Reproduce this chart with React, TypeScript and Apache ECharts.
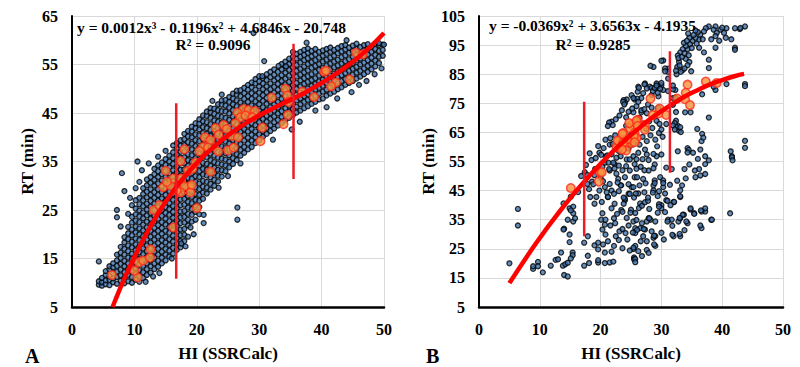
import { useEffect, useRef } from "react";
import * as echarts from "echarts";

// ---------- Panel A data ----------
const yRangeA = [5, 65];

// dense blue cloud, read column by column: [x, y values]
const cloudA: [number, number[]][] = [
  [4.3, [9.6, 10.3, 14.4]],
  [4.8, [9.4, 10.1, 11.0]],
  [5.4, [9.7, 10.5, 11.6, 12.4]],
  [6.0, [9.5, 10.6, 11.3, 12.8, 13.4]],
  [6.6, [10.1, 10.9, 12.0, 13.2, 14.0]],
  [7.2, [9.8, 11.2, 12.3, 13.5, 14.6, 15.8, 23.5, 25.0]],
  [7.8, [10.4, 11.5, 12.7, 13.9, 15.1, 16.2, 17.4, 21.6]],
  [8.4, [9.9, 11.0, 12.2, 13.4, 14.5, 15.8, 17.0, 18.3, 19.4, 28.9]],
  [9.0, [10.3, 11.6, 12.8, 14.0, 15.2, 16.5, 17.7, 19.0, 20.2, 21.5, 24.2]],
  [9.6, [10.0, 11.2, 12.4, 13.6, 14.9, 16.0, 17.3, 18.5, 19.8, 21.0, 22.4, 23.6, 26.0]],
  [10.2, [10.6, 11.8, 13.0, 14.2, 15.5, 16.7, 17.9, 19.1, 20.4, 21.6, 22.8, 24.1, 25.3, 27.0, 29.5]],
  [10.8, [10.2, 11.4, 12.6, 13.9, 15.0, 16.3, 17.5, 18.8, 20.0, 21.2, 22.5, 23.7, 24.9, 26.2, 27.5, 30.8]],
  [11.4, [11.0, 12.2, 13.5, 14.7, 15.9, 17.1, 18.4, 19.6, 20.8, 22.0, 23.3, 24.5, 25.8, 27.0, 28.3, 29.5]],
  [12.0, [11.6, 12.8, 14.0, 15.3, 16.5, 17.7, 18.9, 20.2, 21.4, 22.6, 23.9, 25.1, 26.3, 27.6, 28.8, 30.1, 31.3]],
  [12.6, [12.1, 13.4, 14.6, 15.8, 17.0, 18.3, 19.5, 20.7, 22.0, 23.2, 24.4, 25.7, 26.9, 28.1, 29.3, 30.6, 31.8]],
  [13.2, [12.8, 14.0, 15.2, 16.4, 17.7, 18.9, 20.1, 21.3, 22.6, 23.8, 25.0, 26.3, 27.5, 28.7, 30.0, 31.2, 32.4, 33.5]],
  [13.8, [13.3, 14.5, 15.8, 17.0, 18.2, 19.5, 20.7, 21.9, 23.2, 24.4, 25.6, 26.9, 28.1, 29.3, 30.5, 31.8, 33.0, 34.2, 36.0]],
  [14.4, [14.0, 15.2, 16.4, 17.6, 18.8, 20.1, 21.3, 22.5, 23.8, 25.0, 26.2, 27.4, 28.7, 29.9, 31.1, 32.4, 33.6, 34.8]],
  [15.0, [14.6, 15.8, 17.0, 18.3, 19.5, 20.7, 22.0, 23.2, 24.4, 25.6, 26.9, 28.1, 29.3, 30.6, 31.8, 33.0, 34.3, 35.5, 37.2]],
  [15.6, [15.4, 16.6, 17.8, 19.0, 20.3, 21.5, 22.7, 24.0, 25.2, 26.4, 27.6, 28.9, 30.1, 31.3, 32.6, 33.8, 35.0, 36.2]],
  [16.2, [16.0, 17.2, 18.5, 19.7, 20.9, 22.2, 23.4, 24.6, 25.8, 27.1, 28.3, 29.5, 30.8, 32.0, 33.2, 34.5, 35.7, 36.9, 38.3]],
  [16.8, [16.8, 18.0, 19.2, 20.5, 21.7, 22.9, 24.1, 25.4, 26.6, 27.8, 29.1, 30.3, 31.5, 32.8, 34.0, 35.2, 36.4, 37.7, 38.8]],
  [17.4, [17.3, 18.6, 19.8, 21.0, 22.3, 23.5, 24.7, 26.0, 27.2, 28.4, 29.6, 30.9, 32.1, 33.3, 34.6, 35.8, 37.0, 38.3, 39.4]],
  [18.0, [18.6, 19.9, 21.1, 22.4, 23.6, 24.8, 26.1, 27.3, 28.5, 29.8, 31.0, 32.2, 33.4, 34.7, 35.9, 37.1, 38.4, 39.6, 40.7]],
  [18.6, [19.5, 21.8, 23.0, 24.2, 25.5, 26.7, 27.9, 29.1, 30.4, 31.6, 32.8, 34.1, 35.3, 36.5, 37.8, 39.0, 40.2, 41.3]],
  [19.2, [22.6, 24.0, 25.2, 26.4, 27.7, 28.9, 30.1, 31.4, 32.6, 33.8, 35.0, 36.3, 37.5, 38.7, 40.0, 41.2, 42.2]],
  [19.8, [23.0, 24.6, 25.9, 27.1, 28.3, 29.6, 30.8, 32.0, 33.3, 34.5, 35.7, 36.9, 38.2, 39.4, 40.6, 41.9, 42.9]],
  [20.4, [24.1, 25.6, 26.9, 28.1, 29.3, 30.5, 31.8, 33.0, 34.2, 35.5, 36.7, 37.9, 39.2, 40.4, 41.6, 42.8, 43.7]],
  [21.0, [27.3, 28.6, 29.8, 31.0, 32.3, 33.5, 34.7, 36.0, 37.2, 38.4, 39.6, 40.9, 42.1, 43.3, 44.5]],
  [21.6, [28.4, 29.6, 30.8, 32.1, 33.3, 34.5, 35.8, 37.0, 38.2, 39.5, 40.7, 41.9, 43.1, 44.4, 45.3]],
  [22.2, [29.2, 30.4, 31.7, 32.9, 34.1, 35.3, 36.6, 37.8, 39.0, 40.3, 41.5, 42.7, 44.0, 45.2, 46.0]],
  [22.8, [30.0, 31.2, 32.5, 33.7, 34.9, 36.2, 37.4, 38.6, 39.8, 41.1, 42.3, 43.5, 44.8, 45.9]],
  [23.4, [30.9, 32.1, 33.3, 34.6, 35.8, 37.0, 38.3, 39.5, 40.7, 41.9, 43.2, 44.4, 45.6, 46.8]],
  [24.0, [31.9, 33.2, 34.4, 35.6, 36.8, 38.1, 39.3, 40.5, 41.8, 43.0, 44.2, 45.4, 46.7, 47.6]],
  [24.6, [33.0, 34.2, 35.4, 36.7, 37.9, 39.1, 40.4, 41.6, 42.8, 44.0, 45.3, 46.5, 47.7]],
  [25.2, [33.8, 35.0, 36.3, 37.5, 38.7, 39.9, 41.2, 42.4, 43.6, 44.9, 46.1, 47.3, 48.3]],
  [25.8, [34.5, 35.7, 37.0, 38.2, 39.4, 40.7, 41.9, 43.1, 44.3, 45.6, 46.8, 48.0, 49.0]],
  [26.4, [35.3, 36.5, 37.7, 39.0, 40.2, 41.4, 42.7, 43.9, 45.1, 46.4, 47.6, 48.8, 49.6]],
  [27.0, [36.2, 37.4, 38.6, 39.9, 41.1, 42.3, 43.5, 44.8, 46.0, 47.2, 48.5, 49.7]],
  [27.6, [36.8, 38.0, 39.3, 40.5, 41.7, 43.0, 44.2, 45.4, 46.6, 47.9, 49.1, 50.2]],
  [28.2, [37.5, 38.7, 39.9, 41.2, 42.4, 43.6, 44.8, 46.1, 47.3, 48.5, 49.8, 50.8]],
  [28.8, [38.0, 39.3, 40.5, 41.7, 42.9, 44.2, 45.4, 46.6, 47.9, 49.1, 50.3, 51.3]],
  [29.4, [38.8, 40.0, 41.2, 42.5, 43.7, 44.9, 46.2, 47.4, 48.6, 49.8, 51.1, 52.0]],
  [30.0, [39.4, 40.6, 41.9, 43.1, 44.3, 45.5, 46.8, 48.0, 49.2, 50.5, 51.5, 52.6]],
  [30.6, [40.1, 41.3, 42.5, 43.8, 45.0, 46.2, 47.5, 48.7, 49.9, 51.1, 52.2]],
  [31.2, [40.7, 41.9, 43.2, 44.4, 45.6, 46.9, 48.1, 49.3, 50.5, 51.8, 53.0]],
  [31.8, [41.3, 42.5, 43.8, 45.0, 46.2, 47.4, 48.7, 49.9, 51.1, 52.4, 53.5]],
  [32.4, [41.8, 43.1, 44.3, 45.5, 46.8, 48.0, 49.2, 50.4, 51.7, 52.9, 54.0]],
  [33.0, [42.4, 43.6, 44.9, 46.1, 47.3, 48.6, 49.8, 51.0, 52.2, 53.5]],
  [33.6, [43.0, 44.2, 45.4, 46.7, 47.9, 49.1, 50.4, 51.6, 52.8, 54.0, 55.1]],
  [34.2, [43.5, 44.7, 46.0, 47.2, 48.4, 49.7, 50.9, 52.1, 53.3, 54.6, 55.6]],
  [34.8, [44.0, 45.3, 46.5, 47.7, 49.0, 50.2, 51.4, 52.7, 53.9, 55.1, 56.2]],
  [35.4, [44.6, 45.8, 47.0, 48.3, 49.5, 50.7, 51.9, 53.2, 54.4, 55.6, 56.6, 57.6]],
  [36.0, [45.1, 46.3, 47.6, 48.8, 50.0, 51.2, 52.5, 53.7, 54.9, 56.2, 57.2]],
  [36.6, [45.5, 46.8, 48.0, 49.2, 50.5, 51.7, 52.9, 54.1, 55.4, 56.6, 57.6]],
  [37.2, [46.0, 47.3, 48.5, 49.7, 51.0, 52.2, 53.4, 54.6, 55.9, 57.0, 58.0]],
  [37.8, [46.4, 47.7, 48.9, 50.1, 51.4, 52.6, 53.8, 55.1, 56.3, 57.4, 58.3]],
  [38.4, [46.9, 48.1, 49.3, 50.6, 51.8, 53.0, 54.3, 55.5, 56.7, 57.8]],
  [39.0, [47.3, 48.5, 49.8, 51.0, 52.2, 53.5, 54.7, 55.9, 57.1, 58.2]],
  [39.6, [47.8, 49.0, 50.2, 51.5, 52.7, 53.9, 55.1, 56.4, 57.6]],
  [40.2, [48.0, 49.4, 50.6, 51.9, 53.1, 54.3, 55.6, 56.8, 57.9]],
  [40.8, [48.6, 49.8, 51.1, 52.3, 53.5, 54.8, 56.0, 57.2, 58.2]],
  [41.4, [49.0, 50.3, 51.5, 52.7, 54.0, 55.2, 56.4, 57.6, 58.5]],
  [42.0, [49.4, 50.7, 51.9, 53.1, 54.4, 55.6, 56.8, 58.0]],
  [42.6, [49.9, 51.1, 52.4, 53.6, 54.8, 56.0, 57.3, 58.4]],
  [43.2, [50.3, 51.6, 52.8, 54.0, 55.2, 56.5, 57.7, 58.8]],
  [43.8, [50.8, 52.0, 53.2, 54.5, 55.7, 56.9, 58.1, 59.0]],
  [44.4, [51.2, 52.4, 53.7, 54.9, 56.1, 57.4, 58.5]],
  [45.0, [51.6, 52.9, 54.1, 55.3, 56.6, 57.8, 58.9]],
  [45.6, [52.1, 53.3, 54.5, 55.8, 57.0, 58.2, 59.3]],
  [46.2, [52.5, 53.7, 55.0, 56.2, 57.4, 58.6]],
  [46.8, [53.0, 54.2, 55.4, 56.7, 57.9, 59.0]],
  [47.4, [53.5, 54.7, 55.9, 57.1, 58.3, 59.2]],
  [48.0, [54.0, 55.2, 56.4, 57.6, 58.6]],
  [48.6, [54.6, 55.8, 57.0, 58.2, 59.3]],
  [49.2, [55.3, 56.6, 57.8, 59.0]],
  [49.8, [56.8, 58.0, 59.1]],
];

// scattered points outside the dense band
const outliersA: [number, number][] = [
  [8.0, 32.6], [10.5, 35.0], [11.2, 33.2], [9.3, 27.5], [12.3, 34.6], [19.5, 20.0], [21.1, 22.3],
  [21.1, 24.0], [18.2, 17.5], [17.5, 18.1], [19.0, 21.4], [27.0, 34.6], [26.5, 25.5], [26.5, 23.0],
  [30.8, 55.7], [33.1, 54.7], [34.3, 54.6], [30.5, 52.6], [29.1, 61.5], [24.0, 48.8], [22.5, 47.5],
  [36.5, 43.2], [39.0, 45.5], [42.5, 48.0], [46.0, 50.8], [48.5, 53.0], [37.6, 59.5], [44.0, 60.0],
  [16.0, 15.0], [14.0, 12.0], [11.8, 10.2], [13.0, 11.3], [25.0, 32.0], [23.5, 29.6], [32.2, 39.5],
  [35.2, 41.6], [40.8, 46.2], [44.8, 49.3], [47.2, 51.6], [49.6, 54.2], [50.0, 59.1], [49.2, 59.4],
];

const orangeA: [number, number][] = [
  [6.4, 11.6], [10.5, 11.1], [10.0, 12.5], [10.7, 14.2], [11.4, 14.6], [12.5, 15.2], [12.6, 16.9],
  [13.1, 25.0], [14.0, 26.0], [16.2, 21.4], [20.0, 25.4], [15.0, 33.1], [14.6, 29.7], [15.8, 30.0],
  [17.4, 35.1], [18.0, 37.5], [18.6, 33.1], [17.5, 31.5], [18.8, 29.7], [16.2, 31.5], [18.0, 29.9],
  [17.4, 28.6], [16.8, 29.0], [19.0, 28.6], [15.2, 30.8],
  [45.5, 57.4], [46.6, 57.1], [40.4, 53.5], [44.5, 51.9], [42.3, 51.3], [41.5, 50.5], [36.9, 49.4],
  [38.8, 48.3], [34.2, 50.0], [34.5, 48.6], [34.7, 47.3], [34.6, 44.6], [33.9, 42.7], [32.0, 48.2],
  [30.5, 42.0], [30.2, 39.2], [27.5, 45.8], [28.3, 45.6], [29.3, 45.4], [26.5, 45.1], [27.0, 44.1],
  [27.8, 44.5], [28.9, 44.1], [26.2, 42.9], [24.3, 42.5], [24.8, 41.7], [25.6, 40.3], [26.6, 40.0],
  [23.0, 41.9], [23.5, 40.5], [21.3, 40.0], [22.2, 39.4], [21.0, 38.0], [21.8, 37.9], [20.4, 37.1],
  [23.4, 37.1], [25.0, 37.3], [19.8, 34.8], [22.2, 32.9], [19.3, 33.5], [19.2, 30.2], [25.9, 37.9],
  [40.7, 53.7],
];

const curveA: [number, number][] = [
  [6.5, 5.0], [7, 6.6], [8, 9.7], [9, 12.6], [10, 15.3], [12, 20.3], [14, 24.7], [16, 28.5],
  [18, 31.8], [20, 34.7], [22, 37.2], [24, 39.4], [26, 41.3], [28, 43.0], [30, 44.5], [32, 45.8],
  [34, 47.1], [36, 48.3], [38, 49.7], [40, 51.2], [42, 52.8], [44, 54.6], [46, 56.6], [48, 58.9],
  [50, 61.5],
];

const vLinesA: [number, number][][] = [
  [[16.7, 10.8], [16.7, 47.0]],
  [[35.5, 31.4], [35.5, 59.3]],
];

// ---------- Panel B data ----------
const yRangeB = [5, 105];

const blueB: [number, number][] = [
  [6.4, 38.7], [6.4, 33.0], [5.0, 20.0], [8.9, 18.1], [8.9, 19.0], [9.7, 20.5], [9.7, 19.0], [10.5, 16.9],
  [11.8, 19.2], [12.6, 21.2], [13.0, 21.4], [13.5, 23.7], [13.8, 19.2], [14.2, 19.7], [14.6, 20.2],
  [14.0, 16.0], [14.6, 15.5], [15.4, 23.7], [15.4, 22.8], [15.1, 21.7], [14.9, 29.9], [14.9, 27.3],
  [14.0, 31.9], [15.5, 34.4], [15.8, 35.5], [15.5, 37.2], [14.9, 38.9], [15.5, 39.5], [15.1, 42.9],
  [16.3, 44.5], [17.9, 29.3], [17.3, 27.1], [17.9, 22.6], [17.3, 19.2], [18.1, 20.1], [19.0, 26.2],
  [19.6, 27.1], [19.6, 24.8], [20.4, 26.5], [20.7, 23.7], [20.7, 20.1], [21.5, 20.3], [22.1, 20.6],
  [19.6, 20.3], [19.6, 21.1], [21.2, 27.6], [20.8, 29.9], [20.3, 31.6], [20.7, 33.3], [20.1, 35.0],
  [20.8, 35.0], [20.3, 37.2], [22.2, 35.5], [23.1, 31.0], [22.5, 29.3], [22.2, 26.0], [24.1, 30.4],
  [24.4, 28.2], [25.7, 30.4], [25.7, 26.0], [25.5, 22.0], [25.5, 21.4], [19.0, 40.5], [19.3, 42.8],
  [19.8, 45.0], [20.7, 46.2], [21.5, 47.3], [21.8, 45.0], [21.2, 42.8], [22.3, 40.5], [21.8, 38.9],
  [23.4, 38.3], [24.0, 41.7], [24.6, 43.9], [25.1, 46.2], [23.4, 46.8], [22.9, 49.0], [24.0, 49.6],
  [24.8, 51.9], [25.6, 49.6], [25.6, 54.1], [22.3, 54.1], [21.5, 51.9], [20.7, 54.6], [18.1, 45.5],
  [18.3, 42.8], [17.8, 47.3], [18.6, 48.1], [13.9, 31.6], [13.9, 40.6], [15.1, 38.2], [14.6, 35.0],
  [25.4, 46.2], [26.2, 44.0], [26.5, 40.6], [25.7, 37.3], [25.4, 34.4], [25.7, 32.1], [26.5, 32.1],
  [27.3, 31.6], [27.0, 29.3], [27.6, 27.6], [28.7, 28.8], [29.0, 26.0], [29.0, 29.4], [27.9, 35.5],
  [28.2, 35.0], [26.8, 33.8], [29.0, 34.4], [25.4, 24.9], [25.7, 21.5], [25.7, 20.4], [30.0, 40.0],
  [30.0, 38.9], [30.8, 41.7], [31.1, 35.0], [31.7, 35.0], [32.0, 41.1], [32.0, 29.3], [33.1, 29.3],
  [32.8, 34.4], [33.1, 35.5], [33.7, 36.7], [33.1, 42.8], [34.3, 33.8], [34.8, 38.5], [35.4, 37.2],
  [36.6, 32.1], [37.2, 37.8], [37.2, 38.9], [36.6, 37.8], [38.2, 35.0], [41.3, 37.2], [35.6, 49.6],
  [36.4, 50.2], [37.2, 50.7], [29.8, 49.6], [28.7, 46.8], [28.7, 45.1], [30.3, 46.2], [26.0, 49.6],
  [27.0, 49.0], [27.9, 51.9], [23.3, 46.8], [22.2, 43.9], [24.0, 42.2], [24.8, 43.9], [21.2, 42.8],
  [20.2, 41.1], [31.8, 29.8], [31.8, 32.9], [33.5, 36.7], [33.0, 35.6], [33.1, 43.1], [32.1, 41.1],
  [31.0, 41.5], [31.5, 40.0], [31.0, 34.4], [29.6, 40.3], [29.6, 39.5], [28.8, 29.5], [28.8, 26.5],
  [27.6, 24.6], [25.4, 25.4], [26.6, 27.6], [27.1, 31.8], [26.0, 31.5], [25.3, 30.6], [24.6, 33.0],
  [25.9, 34.9], [27.6, 34.4], [28.0, 35.5], [26.3, 39.0], [26.8, 39.8], [27.3, 41.0], [27.8, 41.5],
  [27.8, 42.6], [28.6, 44.3], [29.6, 44.8], [25.0, 38.4], [24.9, 37.4], [23.8, 40.5], [23.6, 37.7],
  [23.6, 31.8], [25.5, 42.6], [23.8, 42.6], [36.4, 33.0], [34.1, 34.4], [33.0, 30.1], [38.3, 35.0],
  [36.5, 38.2], [35.4, 37.0], [34.8, 38.9],
  [43.75, 101.4], [42.9, 100.5], [42.1, 100.8], [40.7, 100.8], [40.3, 99.2], [40.6, 97.5], [39.7, 100.3],
  [38.9, 101.4], [38.6, 100.3], [39.1, 99.2], [38.9, 98.1], [37.8, 101.4], [37.3, 100.8], [37.0, 99.7],
  [36.4, 98.6], [36.2, 96.9], [35.6, 97.5], [35.1, 96.4], [34.6, 97.5], [34.7, 95.3], [34.3, 93.6],
  [34.0, 94.7], [33.7, 95.8], [33.5, 93.6], [33.1, 92.5], [32.7, 91.4], [32.9, 89.2], [33.5, 86.4],
  [33.2, 85.8], [32.6, 87.5], [34.0, 90.3], [34.6, 89.2], [34.3, 88.1], [36.2, 94.1], [37.0, 92.5],
  [37.8, 90.0], [37.8, 87.1], [38.9, 94.1], [42.1, 94.1], [42.1, 93.4], [30.3, 89.7], [31.1, 86.9],
  [31.1, 85.8], [31.1, 83.5], [28.7, 87.5], [32.3, 79.6], [29.2, 81.8], [29.4, 80.7], [28.9, 80.1],
  [30.0, 81.2], [30.3, 79.6], [28.1, 80.7], [27.6, 80.1], [27.3, 81.8], [26.2, 80.7], [27.0, 78.5],
  [28.4, 77.9], [29.5, 77.4], [26.7, 76.8], [25.6, 76.3], [24.3, 76.3], [25.9, 74.0], [27.8, 74.6],
  [28.4, 73.5], [25.4, 71.9], [26.7, 71.9], [29.2, 69.0], [29.7, 67.9], [30.8, 67.9], [32.4, 69.0],
  [32.7, 67.3], [32.9, 65.6], [33.2, 65.1], [34.8, 71.9], [36.7, 78.1], [38.9, 79.6], [38.6, 80.7],
  [40.7, 81.6], [43.75, 81.6], [43.75, 80.9], [37.8, 70.1], [36.7, 64.5], [35.9, 66.2], [36.4, 59.1],
  [34.3, 59.6], [34.5, 59.0], [32.7, 58.5], [41.4, 58.5], [41.6, 56.8], [43.75, 62.1], [37.8, 55.4],
  [36.2, 52.4], [35.5, 51.9], [31.7, 52.4], [33.1, 45.1], [30.3, 48.5], [30.3, 47.6], [28.9, 48.5],
  [28.9, 47.6], [30.8, 52.9], [30.0, 57.4], [28.9, 54.0], [29.2, 56.8],
  [32.8, 90.5], [33.0, 88.0], [33.4, 91.0], [33.8, 92.2], [34.2, 96.5], [34.5, 91.5], [35.0, 94.0],
  [35.3, 98.5], [35.8, 95.5], [36.0, 99.5], [36.8, 97.0], [32.5, 85.0], [32.4, 86.2], [33.8, 87.0],
  [34.9, 86.0], [35.6, 100.0], [38.2, 97.0], [39.5, 96.5], [40.0, 101.0], [41.5, 97.0], [43.0, 100.9],
  [34.4, 99.0],
  [17.4, 51.3], [17.8, 50.4], [19.8, 58.0], [20.1, 57.3], [21.5, 60.8], [20.9, 56.8], [21.8, 57.5],
  [22.6, 56.3], [23.3, 56.8], [24.3, 55.7], [25.4, 56.8], [26.2, 58.0], [27.3, 59.1], [27.6, 57.4],
  [28.7, 57.6], [27.9, 55.5], [28.7, 52.7], [23.0, 53.6], [21.3, 54.6], [22.1, 54.6], [20.3, 53.2],
  [19.1, 52.4], [21.8, 68.7], [22.0, 67.5], [23.1, 70.8], [23.8, 76.1], [24.0, 75.2], [23.5, 72.6],
  [24.6, 72.1], [25.2, 73.2], [26.0, 76.6], [26.2, 75.5], [26.7, 72.6], [27.2, 73.0], [27.6, 71.6],
  [28.4, 80.3], [28.6, 79.2], [28.9, 80.3], [29.4, 78.6], [30.0, 89.6], [28.2, 87.9], [30.6, 87.0],
  [30.6, 86.0], [30.0, 82.0], [31.1, 79.2], [31.9, 79.8], [31.9, 76.8], [31.9, 74.5], [32.2, 68.2],
  [32.5, 66.8], [33.1, 66.8], [33.9, 71.9], [36.6, 62.0], [36.9, 63.2], [41.6, 56.4], [41.7, 55.4],
  [43.75, 59.7], [21.1, 57.1], [21.4, 52.4], [22.3, 52.6], [24.8, 55.7], [25.9, 55.8], [25.3, 60.8],
  [23.7, 75.5], [23.9, 74.6], [25.1, 77.8], [25.4, 76.8], [26.1, 79.0], [26.3, 80.3], [27.2, 81.5],
  [29.2, 81.1], [29.8, 80.0], [21.4, 68.4], [21.2, 67.2], [22.5, 69.5], [24.2, 67.3], [24.2, 70.2],
  [26.4, 70.0], [27.0, 68.0], [27.5, 66.2], [29.5, 73.5], [31.9, 81.1], [31.9, 67.4], [32.2, 66.0],
  [32.3, 77.0], [32.4, 72.0],
  [18.5, 55.5], [19.2, 56.2], [20.5, 59.6], [20.8, 62.5], [21.6, 63.0], [22.4, 64.0], [22.0, 61.0],
  [23.0, 58.6], [23.8, 60.2], [24.6, 59.5], [25.0, 64.2], [25.8, 62.0], [26.4, 60.8], [26.9, 63.5],
  [27.6, 62.0], [28.2, 64.0], [28.5, 66.5], [28.0, 68.8], [29.0, 62.5], [29.3, 60.2], [29.6, 64.8],
  [30.2, 63.5], [30.0, 66.0], [19.6, 60.3], [18.2, 57.8], [17.6, 53.8], [16.8, 50.0], [20.0, 49.5],
  [19.0, 50.3], [22.6, 50.8], [23.6, 52.0], [24.2, 53.4], [26.6, 53.2], [27.2, 52.0], [26.9, 55.8],
  [25.9, 52.5], [18.8, 47.2], [20.4, 48.2], [22.8, 47.8], [24.6, 47.2], [26.4, 46.8], [27.4, 47.5],
  [27.2, 44.4], [29.4, 43.1], [30.6, 44.0], [31.4, 47.0], [32.6, 48.4], [33.4, 46.8], [34.0, 49.2],
  [21.0, 44.4], [23.0, 44.8], [25.8, 44.0], [28.0, 38.7], [29.4, 37.4], [30.6, 37.6], [22.7, 37.0],
  [24.3, 35.6], [21.6, 33.0], [22.4, 33.8], [23.0, 28.0], [21.8, 24.0], [23.6, 25.2], [24.8, 24.4],
  [26.2, 24.2], [26.8, 22.5], [27.9, 23.6], [28.4, 31.0], [30.0, 30.5], [30.4, 28.2], [33.8, 31.4],
  [33.8, 52.4], [34.6, 54.0], [35.2, 58.0], [36.0, 55.9], [37.2, 56.8], [34.3, 58.1], [37.2, 54.1],
];

const orangeB: [number, number][] = [
  [28.2, 76.6], [30.8, 71.0], [29.5, 71.5], [28.6, 71.0], [27.3, 67.6], [26.1, 69.3], [25.1, 67.6],
  [24.8, 66.5], [23.7, 64.8], [25.6, 64.8], [25.9, 63.1], [25.0, 61.4], [23.4, 62.5], [24.0, 61.0],
  [22.9, 61.7], [22.6, 59.9], [19.9, 51.3], [29.7, 73.2], [34.3, 81.4], [34.0, 78.6], [33.9, 76.4],
  [34.7, 74.4], [32.6, 76.6], [37.3, 82.5], [39.1, 82.0], [24.7, 68.2], [25.9, 69.0], [26.1, 67.3],
  [27.3, 65.9], [25.5, 63.7], [24.4, 62.7], [22.8, 62.2], [23.6, 64.5], [23.7, 61.4], [25.6, 61.6],
  [24.2, 58.8], [23.5, 59.1], [15.1, 45.9], [19.7, 48.1], [20.2, 51.3],
];

const curveB: [number, number][] = [
  [5, 13.2], [8, 22.7], [10, 28.7], [12, 34.4], [14, 39.8], [16, 44.9], [18, 49.7], [20, 54.2],
  [22, 58.4], [24, 62.3], [26, 65.9], [28, 69.3], [30, 72.3], [32, 75.0], [34, 77.5], [36, 79.6],
  [38, 81.5], [40, 83.0], [42, 84.3], [43.6, 85.1],
];

const vLinesB: [number, number][][] = [
  [[17.3, 29.3], [17.3, 75.5]],
  [[31.4, 51.1], [31.4, 92.9]],
];

const eqA = ["y = 0.0012x³ - 0.1196x² + 4.6846x - 20.748", "R² = 0.9096"];
const eqB = ["y = -0.0369x² + 3.6563x - 4.1935", "R² = 0.9285"];

const FONT = "'Liberation Serif', 'Times New Roman', serif";

export default function App() {
  const ref = useRef<HTMLDivElement>(null);

  useEffect(() => {
    if (!ref.current) return;
    const chart = echarts.init(ref.current, null, { renderer: "svg" });

    const pointsA: [number, number][] = [];
    cloudA.forEach(([x, ys]) => ys.forEach((y) => pointsA.push([x, y])));
    outliersA.forEach((p) => pointsA.push(p));

    const mkX = (gridIndex: number) => ({
      type: "value" as const,
      gridIndex,
      min: 0,
      max: 50,
      interval: 10,
      name: "HI (SSRCalc)",
      nameLocation: "middle" as const,
      nameGap: 38,
      nameTextStyle: { fontFamily: FONT, fontWeight: "bold" as const, fontSize: 17, color: "#000" },
      axisLine: { show: true, lineStyle: { color: "#000", width: 2.5 } },
      axisTick: { show: false },
      axisLabel: { fontFamily: FONT, fontWeight: "bold" as const, fontSize: 16, color: "#000", margin: 14 },
      splitLine: { show: true, lineStyle: { color: "#d9d9d9", width: 1 } },
    });
    const mkY = (gridIndex: number, range: number[]) => ({
      type: "value" as const,
      gridIndex,
      min: range[0],
      max: range[1],
      interval: 10,
      name: "RT (min)",
      nameLocation: "middle" as const,
      nameGap: 36,
      nameRotate: 90,
      nameTextStyle: { fontFamily: FONT, fontWeight: "bold" as const, fontSize: 17, color: "#000" },
      axisLine: { show: true, lineStyle: { color: "#000", width: 2 } },
      axisTick: { show: false },
      axisLabel: { fontFamily: FONT, fontWeight: "bold" as const, fontSize: 16, color: "#000", margin: 14 },
      splitLine: { show: true, lineStyle: { color: "#d9d9d9", width: 1 } },
    });

    const blueStyle = { color: "#3f72ab", borderColor: "#000", borderWidth: 1.3 };
    const orangeStyle = { color: "#f5913d", borderColor: "#ff2a1a", borderWidth: 1.5 };
    const curveStyle = { color: "#ff0000", width: 4.5 };
    const vStyle = { color: "#ee1c25", width: 2.5 };

    const series: any[] = [];
    const addPanel = (
      idx: number,
      blue: [number, number][],
      orange: [number, number][],
      curve: [number, number][],
      vlines: [number, number][][]
    ) => {
      series.push({
        type: "scatter", xAxisIndex: idx, yAxisIndex: idx, data: blue,
        symbolSize: 5, itemStyle: blueStyle, silent: true, z: 2,
      });
      series.push({
        type: "scatter", xAxisIndex: idx, yAxisIndex: idx, data: orange,
        symbolSize: 8.5, itemStyle: orangeStyle, silent: true, z: 3,
      });
      series.push({
        type: "line", xAxisIndex: idx, yAxisIndex: idx, data: curve, smooth: true,
        showSymbol: false, symbol: "none", lineStyle: curveStyle, silent: true, z: 4,
      });
      vlines.forEach((seg) =>
        series.push({
          type: "line", xAxisIndex: idx, yAxisIndex: idx, data: seg,
          showSymbol: false, symbol: "none", lineStyle: vStyle, silent: true, z: 5,
        })
      );
    };
    addPanel(0, pointsA, orangeA, curveA, vLinesA);
    addPanel(1, blueB, orangeB, curveB, vLinesB);

    const txt = (text: string, x: number, y: number, align: string, size: number) => ({
      type: "text",
      x,
      y,
      z: 10,
      style: {
        text,
        fontFamily: FONT,
        fontWeight: "bold",
        fontSize: size,
        fill: "#000",
        textAlign: align,
        textVerticalAlign: "middle",
        verticalAlign: "middle",
      },
    });

    chart.setOption({
      animation: false,
      backgroundColor: "#fff",
      grid: [
        { left: 72, right: 416, top: 16, bottom: 55, containLabel: false },
        { left: 479, right: 17, top: 16, bottom: 55, containLabel: false },
      ],
      xAxis: [mkX(0), mkX(1)],
      yAxis: [mkY(0, yRangeA), mkY(1, yRangeB)],
      series,
      graphic: [
        txt(eqA[0], 77, 27, "left", 15.5),
        txt(eqA[1], 213, 44, "center", 15.5),
        txt(eqB[0], 489, 25, "left", 15.5),
        txt(eqB[1], 593, 44, "center", 15.5),
        txt("A", 25, 356, "left", 20),
        txt("B", 426, 356, "left", 20),
      ],
    });

    return () => chart.dispose();
  }, []);

  return (
    <div
      ref={ref}
      style={{ position: "fixed", left: 0, top: 0, width: 800, height: 367 }}
    />
  );
}
